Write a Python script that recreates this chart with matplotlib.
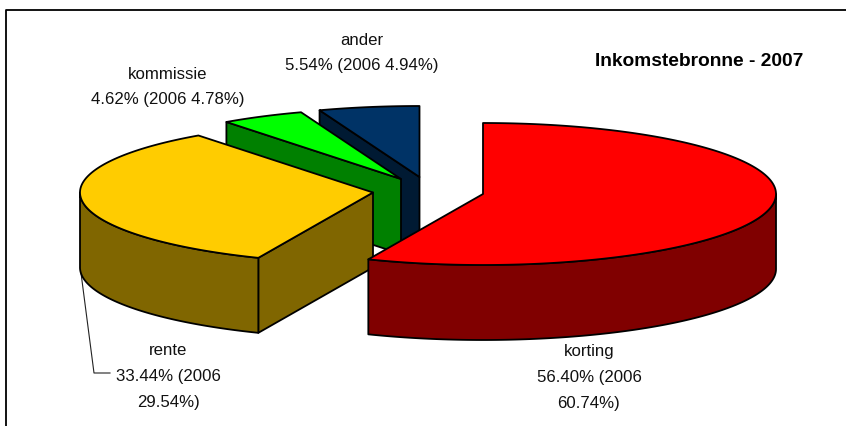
import numpy as np
import matplotlib
matplotlib.use("Agg")
import matplotlib.pyplot as plt

plt.rcParams['font.family'] = ['Liberation Sans', 'DejaVu Sans']

# Data
categories = ['korting', 'rente', 'kommissie', 'ander']
share_2007 = [56.40, 33.44, 4.62, 5.54]
labels_text = ['56.40% (2006\n60.74%)', '33.44% (2006\n29.54%)',
               '4.62% (2006 4.78%)', '5.54% (2006 4.94%)']
title_text = 'Inkomstebronne - 2007'

# Styles and layout (pixel coordinates of the 846x427 canvas)
top_colors = ['#FF0000', '#FFCC00', '#00FF00', '#003366']
side_colors = ['#800000', '#806600', '#008000', '#001A33']
centers = [(483, 195), (373, 193.5), (401, 180), (419.5, 178)]
label_pos = [(589, 377.5), (168, 376.5), (167.5, 87), (362, 53)]
RX, RY, DEPTH = 293, 71, 75

fig = plt.figure(figsize=(8.46, 4.27), dpi=100, facecolor='white')
ax = fig.add_axes([0, 0, 1, 1])
ax.set_xlim(0, 846)
ax.set_ylim(427, 0)
ax.axis('off')

# Frame: left and top only
ax.plot([6, 6, 846], [427, 11, 11], color='black', lw=1.3, zorder=1)


def rim(c, deg):
    a = np.radians(deg)
    return c[0] + RX * np.sin(a), c[1] - RY * np.cos(a)


def poly(xs, ys, color, z):
    ax.fill(xs, ys, facecolor=color, edgecolor='black', lw=1.3,
            joinstyle='round', zorder=z)


edges = np.concatenate([[0], np.cumsum(share_2007) / sum(share_2007) * 360])
order = [3, 2, 1, 0]
for z, i in enumerate(order):
    a0, a1 = edges[i], edges[i + 1]
    c = centers[i]
    top, side = top_colors[i], side_colors[i]
    base = 2 + z * 3
    # Radial wall facing the viewer
    if np.sin(np.radians(a0)) < -1e-6:
        x0, y0 = rim(c, a0)
        poly([c[0], x0, x0, c[0]], [c[1], y0, y0 + DEPTH, c[1] + DEPTH], side, base)
    # Outer wall (front half of the ellipse only)
    lo, hi = max(a0, 90), min(a1, 270)
    if hi > lo:
        t = np.linspace(lo, hi, 120)
        xs, ys = rim(c, t)
        poly(np.r_[xs, xs[::-1]], np.r_[ys, ys[::-1] + DEPTH], side, base + 1)
    # Top face
    t = np.linspace(a0, a1, 240)
    xs, ys = rim(c, t)
    poly(np.r_[c[0], xs], np.r_[c[1], ys], top, base + 2)

# Labels
for name, txt, (x, y) in zip(categories, labels_text, label_pos):
    ax.text(x, y, name + '\n' + txt, ha='center', va='center', fontsize=12.1,
            color='#111111', linespacing=1.9, zorder=30)

ax.text(699, 61, title_text, ha='center', va='center', fontsize=13.8,
        fontweight='bold', color='black', zorder=30)

# Leader line for "rente"
ax.plot([81, 94, 110], [274, 374, 374], color='#222222', lw=0.8, zorder=1.5)

fig.savefig('out.png', dpi=100, facecolor='white')
